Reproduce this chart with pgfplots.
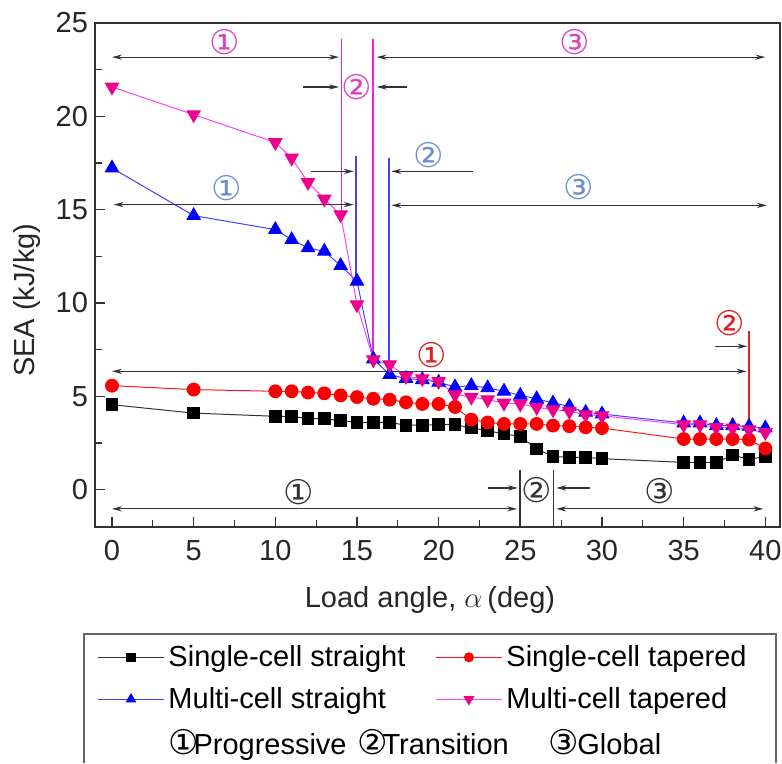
\documentclass[border=0pt]{standalone}
\usepackage{fontspec}
\setmainfont{Liberation Sans}
\newfontfamily\cnum{DejaVu Sans}
\usepackage{pgfplots}
\pgfplotsset{compat=1.18}
\usetikzlibrary{arrows.meta}

\definecolor{pinkA}{HTML}{E040C0}
\definecolor{pinkLine}{HTML}{FF40FF}
\definecolor{pinkRule}{HTML}{F020E0}
\definecolor{blueA}{HTML}{6A8FD0}
\definecolor{blueLine}{HTML}{4040FF}
\definecolor{redA}{HTML}{E02020}
\definecolor{inkA}{HTML}{333333}

\tikzset{
  dimarrow/.style={inkA, line width=0.6pt, {Stealth[length=5pt,width=2.6pt]}-{Stealth[length=5pt,width=2.6pt]}},
  onearrow/.style={inkA, line width=0.6pt, -{Stealth[length=5pt,width=2.6pt]}},
  cn/.style={font=\cnum\fontsize{17}{19}\selectfont},
  keytext/.style={anchor=base west, font=\fontsize{14.5}{17}\selectfont, inner sep=0pt},
}
\newcommand{\keynum}[1]{{\cnum\fontsize{17}{19}\selectfont #1}\kern-2.5pt}

\begin{document}
\begin{tikzpicture}
\begin{axis}[
  scale only axis, width=342.5pt, height=252pt,
  xmin=-1.04, xmax=40.9, ymin=-2, ymax=25,
  xtick={0,5,...,40}, minor xtick={2.5,7.5,...,37.5},
  ytick={0,5,...,25}, minor ytick={2.5,7.5,...,22.5},
  tick pos=left, tick align=inside,
  major tick length=5pt, minor tick length=3.5pt,
  axis line style={inkA, line width=0.7pt},
  tick style={inkA, line width=0.6pt},
  tick label style={font=\fontsize{14.5}{17}\selectfont, text=black!85},
  /pgf/number format/assume math mode=true,
  xticklabel style={yshift=-3pt},
  label style={font=\fontsize{14.5}{17}\selectfont, text=black!85},
  xlabel={Load angle, $\alpha\,$(deg)},
  ylabel={SEA (kJ/kg)},
  x label style={at={(axis description cs:0.489,-0.145)}, anchor=center},
  y label style={at={(axis description cs:-0.1,0.45)}, anchor=center},
  clip=false,
  legend columns=2,
  legend style={at={(axis description cs:0.003,-0.226)}, anchor=north west,
    draw=none, fill=none, inner sep=0pt, font=\fontsize{14.5}{17}\selectfont,
    row sep=5pt, /tikz/every even column/.append style={column sep=13pt}},
  legend cell align=left,
  legend image code/.code={\draw[mark repeat=2,mark phase=2,every mark/.append style={scale=0.7}] plot coordinates {(0pt,0pt) (16.5pt,0pt) (33pt,0pt)};},
]
% single-cell straight
\addplot[inkA, line width=0.5pt, mark=square*, mark size=2.9pt, mark options={fill=black, draw=black}] coordinates {
(0,4.55) (5,4.1) (10,3.93) (11,3.93) (12,3.8) (13,3.8) (14,3.7) (15,3.6) (16,3.6) (17,3.6)
(18,3.45) (19,3.45) (20,3.48) (21,3.48) (22,3.3) (23,3.16) (24,2.98) (25,2.86) (26,2.18)
(27,1.78) (28,1.73) (29,1.73) (30,1.66) (35,1.46) (36,1.46) (37,1.46) (38,1.85) (39,1.62) (40,1.78)};
\addlegendentry{Single-cell straight}
% single-cell tapered
\addplot[red!90!white, line width=0.5pt, mark=*, mark size=3.2pt, mark options={fill=red, draw=red}] coordinates {
(0,5.57) (5,5.36) (10,5.27) (11,5.27) (12,5.2) (13,5.16) (14,5.05) (15,4.96) (16,4.87) (17,4.82)
(18,4.68) (19,4.59) (20,4.59) (21,4.43) (22,3.75) (23,3.6) (24,3.52) (25,3.52) (26,3.52)
(27,3.43) (28,3.4) (29,3.34) (30,3.3) (35,2.71) (36,2.71) (37,2.71) (38,2.71) (39,2.68) (40,2.21)};
\addlegendentry{Single-cell tapered}
% multi-cell straight
\addplot[blueLine, line width=0.5pt, mark=triangle*, mark size=3.8pt, mark options={fill=blue, draw=blue}] coordinates {
(0,17.23) (5,14.68) (10,13.93) (11,13.39) (12,12.95) (13,12.77) (14,12.0) (15,11.16) (16,7.0) (17,6.16)
(18,5.95) (19,5.89) (20,5.75) (21,5.5) (22,5.57) (23,5.45) (24,5.27) (25,5.05) (26,4.87)
(27,4.64) (28,4.46) (29,4.14) (30,4.05) (35,3.57) (36,3.57) (37,3.43) (38,3.43) (39,3.39) (40,3.3)};
\addlegendentry{Multi-cell straight}
% multi-cell tapered
\addplot[pinkLine, line width=0.5pt, mark=triangle*, mark size=3.8pt, mark options={rotate=180, fill=magenta, draw=magenta}] coordinates {
(0,21.57) (5,20.09) (10,18.6) (11,17.77) (12,16.46) (13,15.57) (14,14.73) (15,9.91) (16,6.96) (17,6.7)
(18,6.07) (19,5.95) (20,5.8) (21,5.09) (22,4.96) (23,4.82) (24,4.64) (25,4.59) (26,4.41)
(27,4.29) (28,4.2) (29,4.02) (30,3.96) (35,3.48) (36,3.48) (37,3.34) (38,3.3) (39,3.21) (40,3.07)};
\addlegendentry{Multi-cell tapered}

% multi-cell tapered regions
\draw[pinkRule, line width=0.9pt] (axis cs:14.05,24.14) -- (axis cs:14.05,14.73);
\draw[pinkRule, line width=0.9pt] (axis cs:16.0,24.14) -- (axis cs:16.0,6.96);
\draw[dimarrow] (axis cs:0,23.17) -- (axis cs:13.9,23.17);
\draw[dimarrow] (axis cs:16.2,23.17) -- (axis cs:40,23.17);
\draw[onearrow] (axis cs:11.7,21.57) -- (axis cs:13.9,21.57);
\draw[onearrow] (axis cs:18.04,21.57) -- (axis cs:16.2,21.57);
\node[cn, text=pinkA] at (axis cs:6.93,24.0) {①};
\node[cn, text=pinkA] at (axis cs:15.0,21.57) {②};
\node[cn, text=pinkA] at (axis cs:28.35,24.0) {③};

% multi-cell straight regions
\draw[blueLine, line width=0.8pt] (axis cs:14.94,17.86) -- (axis cs:14.94,11.16);
\draw[blueLine, line width=0.8pt] (axis cs:16.96,17.77) -- (axis cs:16.96,6.16);
\draw[dimarrow] (axis cs:0.1,15.27) -- (axis cs:14.8,15.27);
\draw[dimarrow] (axis cs:17.1,15.23) -- (axis cs:40.1,15.23);
\draw[onearrow] (axis cs:12.2,17.05) -- (axis cs:14.8,17.05);
\draw[onearrow] (axis cs:22.1,17.05) -- (axis cs:17.1,17.05);
\node[cn, text=blueA] at (axis cs:7.02,16.16) {①};
\node[cn, text=blueA] at (axis cs:19.37,17.9) {②};
\node[cn, text=blueA] at (axis cs:28.55,16.19) {③};

% single-cell tapered regions
\draw[redA, line width=0.7pt] (axis cs:39.0,8.48) -- (axis cs:39.0,2.68);
\draw[dimarrow] (axis cs:0,6.34) -- (axis cs:38.85,6.34);
\draw[onearrow] (axis cs:36.9,7.68) -- (axis cs:38.9,7.68);
\node[cn, text=redA] at (axis cs:19.58,7.23) {①};
\node[cn, text=redA] at (axis cs:37.84,8.93) {②};

% single-cell straight regions
\draw[inkA, line width=0.6pt] (axis cs:24.98,1.07) -- (axis cs:24.98,-2);
\draw[inkA, line width=0.6pt] (axis cs:27.02,1.07) -- (axis cs:27.02,-2);
\draw[dimarrow] (axis cs:0,-1.03) -- (axis cs:24.8,-1.03);
\draw[dimarrow] (axis cs:27.2,-1.03) -- (axis cs:39.88,-1.03);
\draw[onearrow] (axis cs:23.05,0.09) -- (axis cs:24.85,0.09);
\draw[onearrow] (axis cs:29.27,0.09) -- (axis cs:27.2,0.09);
\node[cn, text=inkA] at (axis cs:11.41,-0.14) {①};
\node[cn, text=inkA] at (axis cs:26.0,0.0) {②};
\node[cn, text=inkA] at (axis cs:33.56,-0.09) {③};

% legend frame (cut off at the bottom) and the mode key
\draw[black!60, line width=0.7pt] (axis description cs:-0.016,-0.4683) |- (axis description cs:0.994,-0.212) -- (axis description cs:0.994,-0.4683);
\node[keytext] at (axis description cs:0.106,-0.452) {\keynum{①}Progressive};
\node[keytext] at (axis description cs:0.382,-0.452) {\keynum{②}Transition};
\node[keytext] at (axis description cs:0.662,-0.452) {\keynum{③}\kern1.5pt Global};

\coordinate (bbsw) at (axis description cs:-0.1387,-0.4683);
\coordinate (bbne) at (axis description cs:1.0029,1.0456);
\end{axis}
\pgfresetboundingbox
\path[use as bounding box] (bbsw) rectangle (bbne);
\end{tikzpicture}
\end{document}
